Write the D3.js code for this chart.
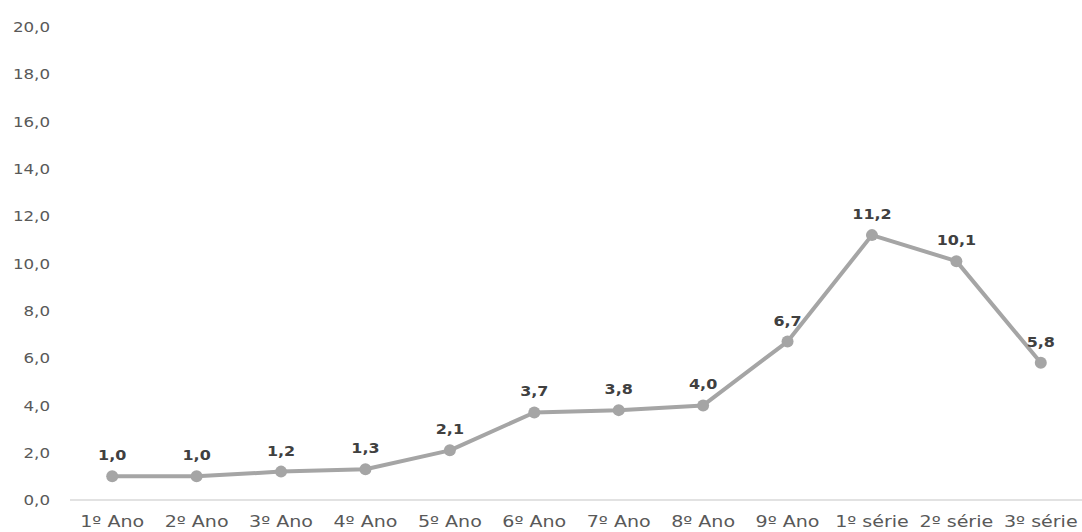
<!DOCTYPE html>
<html><head><meta charset="utf-8">
<script src="https://cdn.jsdelivr.net/npm/d3@7"></script>
<style>body{margin:0;background:#fff}</style>
</head><body>
<svg id="c" width="1082" height="532"></svg>
<script>
const categories = ["1º Ano","2º Ano","3º Ano","4º Ano","5º Ano","6º Ano","7º Ano","8º Ano","9º Ano","1º série","2º série","3º série"];
const values = [1.0,1.0,1.2,1.3,2.1,3.7,3.8,4.0,6.7,11.2,10.1,5.8];
const yTicks = [0,2,4,6,8,10,12,14,16,18,20];

const svg = d3.select("#c");
const mLeft = 70, mRight = 1083, mTop = 27, mBottom = 500;
const x = d3.scaleBand().domain(categories).range([mLeft, mRight]);
const y = d3.scaleLinear().domain([0,20]).range([mBottom, mTop]);
const fmt = v => d3.format(".1f")(v).replace(".", ",");
const font = "DejaVu Sans, Verdana, sans-serif";

// baseline
svg.append("line").attr("x1", mLeft).attr("x2", mRight).attr("y1", y(0)).attr("y2", y(0))
  .attr("stroke", "#d9d9d9").attr("stroke-width", 1.5);

// y axis labels
const yAxis = d3.axisLeft(y).tickValues(yTicks).tickFormat(fmt).tickSize(0).tickPadding(0);
const yg = svg.append("g").attr("transform", `translate(50,0)`).call(yAxis);
yg.select(".domain").remove();
yg.selectAll("text").attr("font-family", font).attr("font-size", 14.5).attr("fill", "#595959")
  .attr("transform", "scale(1.15,1)");

// x axis labels
const xAxis = d3.axisBottom(x).tickSize(0).tickPadding(0);
const xg = svg.append("g").attr("transform", `translate(0,${mBottom + 16})`).call(xAxis);
xg.select(".domain").remove();
xg.selectAll("text").attr("font-family", font).attr("font-size", 15.5).attr("fill", "#595959")
  .attr("transform", "scale(1.23,1)");

const cx = d => x(d) + x.bandwidth()/2;
const pts = categories.map((c,i)=>({c, v: values[i]}));

svg.append("path").datum(pts)
  .attr("d", d3.line().x(d=>cx(d.c)).y(d=>y(d.v)))
  .attr("fill","none").attr("stroke","#a5a5a5").attr("stroke-width",4).attr("stroke-linejoin","round");

svg.selectAll("circle.p").data(pts).join("circle")
  .attr("cx", d=>cx(d.c)).attr("cy", d=>y(d.v)).attr("r", 6).attr("fill", "#a5a5a5");

svg.selectAll("g.lab").data(pts).join("g").attr("class","lab")
  .attr("transform", d=>`translate(${cx(d.c)},${y(d.v) - 16})`)
  .append("text")
  .attr("transform", "scale(1.1,1)")
  .attr("text-anchor","middle").attr("font-family", font).attr("font-weight","bold")
  .attr("font-size", 14.5).attr("fill","#404040").text(d=>fmt(d.v));
</script>
</body></html>
